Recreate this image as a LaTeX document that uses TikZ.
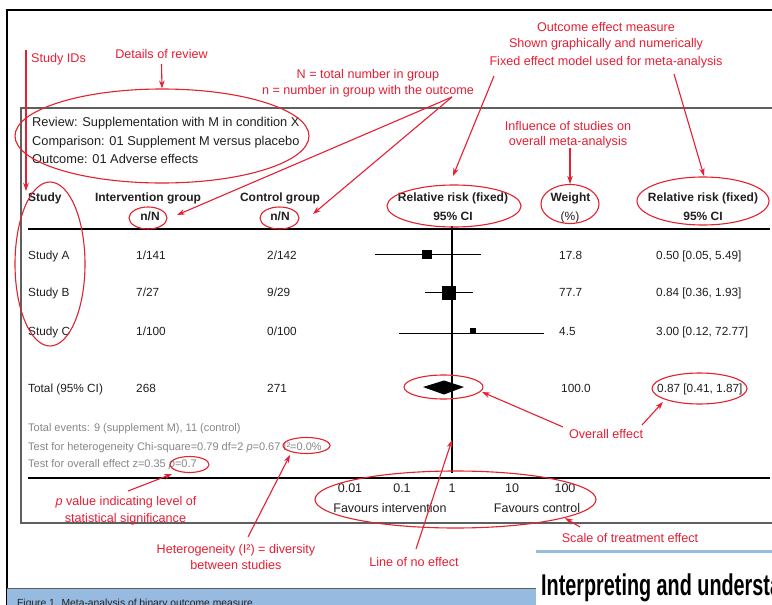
\documentclass[tikz,border=0pt]{standalone}
\usepackage{fontspec}
\usepackage{graphicx}
\setmainfont{Liberation Sans}
\usetikzlibrary{arrows.meta,shapes.geometric}
\definecolor{annot}{RGB}{232,30,52}
\definecolor{ell}{RGB}{226,34,46}
\definecolor{bandblue}{RGB}{150,186,224}
\definecolor{statgray}{RGB}{135,135,135}
\definecolor{boxgray}{RGB}{95,95,95}
\definecolor{txt}{RGB}{35,31,32}
\begin{document}
\begin{tikzpicture}[x=1pt,y=-1pt,
  ann/.style={text=annot, font=\fontsize{12.6}{15}\selectfont, inner sep=0pt, anchor=base},
  annarrow/.style={draw=annot, line width=1.1pt, -{Stealth[length=8pt,width=5.5pt]}},
  ring/.style={draw=ell, line width=1.1pt, ellipse, inner sep=0pt},
  hdr/.style={font=\fontsize{12}{14}\selectfont\bfseries, text=txt, inner sep=0pt, anchor=base},
  hdrl/.style={font=\fontsize{12}{14}\selectfont, text=txt, inner sep=0pt, anchor=base},
  cell/.style={font=\fontsize{11.8}{14}\selectfont, text=txt, inner sep=0pt, anchor=base west},
  stat/.style={font=\fontsize{11}{13}\selectfont, text=statgray, inner sep=0pt, anchor=base west},
  axl/.style={font=\fontsize{12.5}{15}\selectfont, text=txt, inner sep=0pt, anchor=base},
  rev/.style={font=\fontsize{12.8}{15}\selectfont, text=txt, inner sep=0pt, anchor=base west},
  plotline/.style={draw=black, line width=0.9pt},
  rule/.style={draw=black, line width=1.1pt}]
\useasboundingbox (0,0) rectangle (772,605);
\clip (0,0) rectangle (772,605);
\fill[white] (0,0) rectangle (772,605);

% outer frame
\draw[black, line width=1.2pt] (7,620) -- (7,10) -- (790,10);
% blue caption band and right article block
\fill[bandblue] (7,588) rectangle (536,620);
\draw[boxgray, line width=1pt] (7,588) -- (536,588);
\fill[white] (536,552) rectangle (790,620);
\draw[bandblue, line width=3pt] (536,551.5) -- (790,551.5);
\node[anchor=base west, inner sep=0pt, text=txt, font=\fontsize{10.3}{12}\selectfont] (caption) at (17,606) {Figure 1. Meta-analysis of binary outcome measure};
\node[anchor=base west, inner sep=0pt, text=black, font=\fontsize{30}{32}\selectfont\bfseries] (title) at (541,595) {\scalebox{0.66}[1]{Interpreting and understanding}};

% inner box
\draw[boxgray, line width=1.5pt] (21,108) rectangle (800,523);

% review details
\node[rev] (rev1) at (32,126) {Review: Supplementation with M in condition X};
\node[rev] (rev2) at (32,145) {Comparison: 01 Supplement M versus placebo};
\node[rev] (rev3) at (32,163) {Outcome: 01 Adverse effects};

% headers
\node[hdr, anchor=base west] (hStudy) at (28,201.5) {Study};
\node[hdr] (hInt) at (148,201.5) {Intervention group};
\node[hdr] (hIntN) at (150,220.5) {n/N};
\node[hdr] (hCon) at (280,201.5) {Control group};
\node[hdr] (hConN) at (280,220.5) {n/N};
\node[hdr] (hRR1) at (453,201.5) {Relative risk (fixed)};
\node[hdr] (hRR1b) at (453,220.5) {95\% CI};
\node[hdr] (hW) at (570.5,201.5) {Weight};
\node[hdrl] (hWb) at (570,220.5) {(\%)};
\node[hdr] (hRR2) at (703,201.5) {Relative risk (fixed)};
\node[hdr] (hRR2b) at (703,220.5) {95\% CI};
\draw[rule] (28,229) -- (770,229);

% rows
\node[cell] (sA) at (28,259) {Study A};
\node[cell] (iA) at (136,259) {1/141};
\node[cell] (cA) at (267,259) {2/142};
\node[cell] (wA) at (559,259) {17.8};
\node[cell] (rA) at (656,259) {0.50 [0.05, 5.49]};
\node[cell] (sB) at (28,296.5) {Study B};
\node[cell] (iB) at (136,296.5) {7/27};
\node[cell] (cB) at (267,296.5) {9/29};
\node[cell] (wB) at (559,296.5) {77.7};
\node[cell] (rB) at (656,296.5) {0.84 [0.36, 1.93]};
\node[cell] (sC) at (28,335.5) {Study C};
\node[cell] (iC) at (136,335.5) {1/100};
\node[cell] (cC) at (267,335.5) {0/100};
\node[cell] (wC) at (559,335.5) {4.5};
\node[cell] (rC) at (656,335.5) {3.00 [0.12, 72.77]};
\node[cell] (sT) at (28,392.5) {Total (95\% CI)};
\node[cell] (iT) at (136,392.5) {268};
\node[cell] (cT) at (267,392.5) {271};
\node[cell] (wT) at (561,392.5) {100.0};
\node[cell] (rT) at (657,392.5) {0.87 [0.41, 1.87]};

% stats
\node[stat] (st1) at (28,431) {Total events: 9 (supplement M), 11 (control)};
\node[stat] (st2) at (28,450) {Test for heterogeneity Chi-square=0.79 df=2 \textit{p}=0.67 I²=0.0\%};
\node[stat] (st3) at (28,467) {Test for overall effect z=0.35 \textit{p}=0.7};

% forest plot
\draw[plotline, line width=1.1pt] (452,226) -- (452,473);
\draw[plotline] (375,254.5) -- (481,254.5);
\fill[black] (422.25,249.75) rectangle (431.75,259.25);
\draw[plotline] (425,292.5) -- (473,292.5);
\fill[black] (442,285.5) rectangle (456,299.5);
\draw[plotline] (399,333.5) -- (544,333.5);
\fill[black] (470,327.5) rectangle (476,333.5);
\fill[black] (423,387) -- (444,380.5) -- (464,387) -- (444,394.5) -- cycle;
\draw[rule] (28,478) -- (770,478);

% axis labels
\node[axl] (t1) at (350,492.5) {0.01};
\node[axl] (t2) at (402,492.5) {0.1};
\node[axl] (t3) at (452,492.5) {1};
\node[axl] (t4) at (512,492.5) {10};
\node[axl] (t5) at (565,492.5) {100};
\node[axl] (fi) at (390,512.5) {Favours intervention};
\node[axl] (fc) at (537,512.5) {Favours control};

% rings
\node[ring, minimum width=294pt, minimum height=94pt] (reviewRing) at (162,136) {};
\node[ring, minimum width=70pt, minimum height=164pt] (sidRing) at (50,264) {};
\node[ring, minimum width=38pt, minimum height=22pt] (nRingI) at (148,218) {};
\node[ring, minimum width=39pt, minimum height=22pt] (nRingC) at (279.5,218) {};
\node[ring, minimum width=134pt, minimum height=42pt] (rrRing1) at (454,206) {};
\node[ring, minimum width=58pt, minimum height=39pt] (wRing) at (570,204) {};
\node[ring, minimum width=132pt, minimum height=48pt] (rrRing2) at (703,201) {};
\node[ring, minimum width=79pt, minimum height=24pt] (diamRing) at (443.5,387) {};
\node[ring, minimum width=95pt, minimum height=31pt] (totRing) at (699.5,388.5) {};
\node[ring, minimum width=39pt, minimum height=16pt] (pRing) at (189.5,464.5) {};
\node[ring, minimum width=47pt, minimum height=16pt] (iRing) at (306.5,445.5) {};
\node[ring, minimum width=281pt, minimum height=57pt] (scaleRing) at (455.5,499.5) {};

% annotation texts
\node[ann, anchor=base west] (sidLabel) at (31,62) {Study IDs};
\node[ann] (detLabel) at (161.5,58) {Details of review};
\node[ann] (nLabel1) at (368,78) {N = total number in group};
\node[ann] (nLabel2) at (368,94) {n = number in group with the outcome};
\node[ann] (oLabel1) at (606,31) {Outcome effect measure};
\node[ann] (oLabel2) at (606,47) {Shown graphically and numerically};
\node[ann] (oLabel3) at (606,65) {Fixed effect model used for meta-analysis};
\node[ann] (inLabel1) at (568,130) {Influence of studies on};
\node[ann] (inLabel2) at (568,145) {overall meta-analysis};
\node[ann] (ovLabel) at (606,438) {Overall effect};
\node[ann] (pLabel1) at (126,505) {\textit{p} value indicating level of};
\node[ann] (pLabel2) at (125.5,522) {statistical significance};
\node[ann] (hLabel1) at (236,553) {Heterogeneity (I²) = diversity};
\node[ann] (hLabel2) at (236,569) {between studies};
\node[ann] (lneLabel) at (414,566) {Line of no effect};
\node[ann] (scLabel) at (630,542) {Scale of treatment effect};

% arrow end points
\coordinate (sidStart) at (26,50);
\coordinate (sidTip) at (26,191);
\coordinate (detStart) at (161.5,64);
\coordinate (nStart) at (452,97);
\coordinate (nTipI) at (177,215);
\coordinate (nTipC) at (313,214);
\coordinate (fxStartA) at (494,76);
\coordinate (fxTipA) at (453,176);
\coordinate (fxStartB) at (674,74);
\coordinate (fxTipB) at (704,176);
\coordinate (inflStart) at (570,148);
\coordinate (ovStartA) at (563,427);
\coordinate (ovTipA) at (482,392);
\coordinate (ovStartB) at (642,425);
\coordinate (ovTipB) at (663,402);
\coordinate (lneStart) at (416,549);
\coordinate (lneTip) at (452,440);
\coordinate (scStart) at (580,527);
\coordinate (scTip) at (565,518);
\coordinate (pStart) at (128,491);
\coordinate (pTip) at (172,474);
\coordinate (hetStart) at (248,537);
\coordinate (hetTip) at (290,455);

% arrows
\draw[annarrow] (sidStart) -- (sidTip);
\draw[annarrow] (detStart) -- (reviewRing.north);
\draw[annarrow] (nStart) -- (nTipI);
\draw[annarrow] (nStart) -- (nTipC);
\draw[annarrow] (fxStartA) -- (fxTipA);
\draw[annarrow] (fxStartB) -- (fxTipB);
\draw[annarrow] (inflStart) -- (wRing.north);
\draw[annarrow] (ovStartA) -- (ovTipA);
\draw[annarrow] (ovStartB) -- (ovTipB);
\draw[annarrow] (lneStart) -- (lneTip);
\draw[annarrow] (scStart) -- (scTip);
\draw[annarrow] (pStart) -- (pTip);
\draw[annarrow] (hetStart) -- (hetTip);
\end{tikzpicture}
\end{document}
